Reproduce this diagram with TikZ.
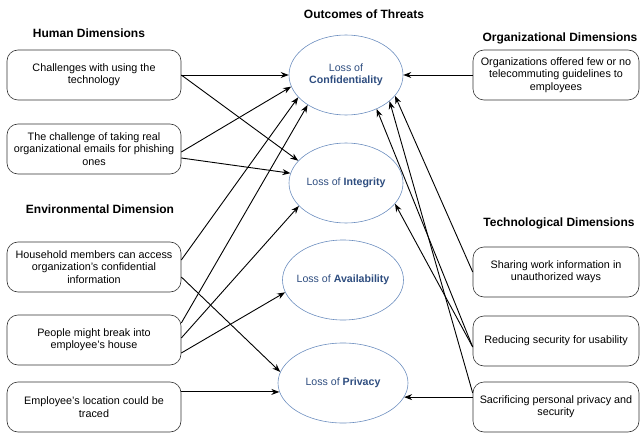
\documentclass[tikz,border=0pt]{standalone}
\usepackage{fontspec}
\setmainfont{Liberation Sans}
\usetikzlibrary{shapes.geometric,arrows.meta}
\definecolor{ovalline}{HTML}{6C8EBF}
\definecolor{ovaltext}{HTML}{2E4D7F}

\begin{document}
\begin{tikzpicture}[x=1pt,y=-1pt,
        dimbox/.style={draw=black!80, line width=0.6pt, rounded corners=11pt, minimum height=50pt,
            inner xsep=2pt, align=flush center, font=\fontsize{10.8}{12.4}\selectfont},
        leftbox/.style={dimbox, minimum width=174pt, text width=164pt},
        rightbox/.style={dimbox, minimum width=166pt, text width=160pt},
        outcome/.style={ellipse, draw=ovalline, line width=0.6pt, text=ovaltext, minimum height=80pt,
            inner xsep=-20pt, inner ysep=0pt, align=center, font=\fontsize{10.6}{12.2}\selectfont},
        heading/.style={font=\fontsize{12}{14}\selectfont\bfseries},
        link/.style={-{Stealth[length=8pt,width=6pt]}, line width=0.9pt}]
    \useasboundingbox (0,0) rectangle (640,433);

    % headings
    \node[heading] (outhead) at (364,14) {Outcomes of Threats};
    \node[heading] (humhead) at (89,33) {Human Dimensions};
    \node[heading] (envhead) at (100,209) {Environmental Dimension};
    \node[heading] (orghead) at (560,38) {Organizational Dimensions};
    \node[heading] (techhead) at (559,223) {Technological Dimensions};

    % outcomes in the middle
    \node[outcome, minimum width=114pt] (conf) at (346,75) {Loss of\\\textbf{Confidentiality}};
    \node[outcome, minimum width=114pt] (integ) at (346,183) {Loss of \textbf{Integrity}};
    \node[outcome, minimum width=121pt] (avail) at (343,280) {Loss of \textbf{Availability}};
    \node[outcome, minimum width=130pt] (priv) at (343,383) {Loss of \textbf{Privacy}};

    % human and environmental factors (left)
    \node[leftbox] (chal) at (94,75) {Challenges with using the technology};
    \node[leftbox] (phish) at (94,149) {The challenge of taking real organizational emails for phishing ones};
    \node[leftbox] (house) at (94,267) {Household members can access organization's confidential information};
    \node[leftbox] (brk) at (94,340) {People might break into employee's house};
    \node[leftbox] (loc) at (94,407) {Employee's location could be traced};

    % organizational and technological factors (right)
    \node[rightbox] (org) at (556,75) {Organizations offered few or no telecommuting guidelines to employees};
    \node[rightbox] (share) at (556,272) {Sharing work information in unauthorized ways};
    \node[rightbox] (reduce) at (556,341) {Reducing security for usability};
    \node[rightbox] (sacr) at (556,407) {Sacrificing personal privacy and security};

    % links from the left
    \draw[link] (chal.east) -- (conf.west);
    \draw[link] (chal.east) -- (integ.155);
    \draw[link] ([yshift=-3pt]phish.east) -- (conf.192);
    \draw[link] ([yshift=-9pt]phish.east) -- (integ.170);
    \draw[link] ([yshift=7pt]house.east) -- (conf.205);
    \draw[link] ([yshift=-10pt]house.east) -- (priv.170);
    \draw[link] ([yshift=17pt]brk.east) -- (conf.218);
    \draw[link] ([yshift=2pt]brk.east) -- (integ.206);
    \draw[link] ([yshift=-13pt]brk.east) -- (avail.192);
    \draw[link] (loc.east |- priv.188) -- (priv.188);

    % links from the right
    \draw[link] (org.west) -- (conf.east);
    \draw[link] (share.west) -- (conf.337);
    \draw[link] ([yshift=-6pt]reduce.west) -- (conf.312);
    \draw[link] ([yshift=-6pt]reduce.west) -- (integ.337);
    \draw[link] ([yshift=14pt]sacr.west) -- (conf.329);
    \draw[link] (sacr.west |- priv.347) -- (priv.347);
\end{tikzpicture}
\end{document}
